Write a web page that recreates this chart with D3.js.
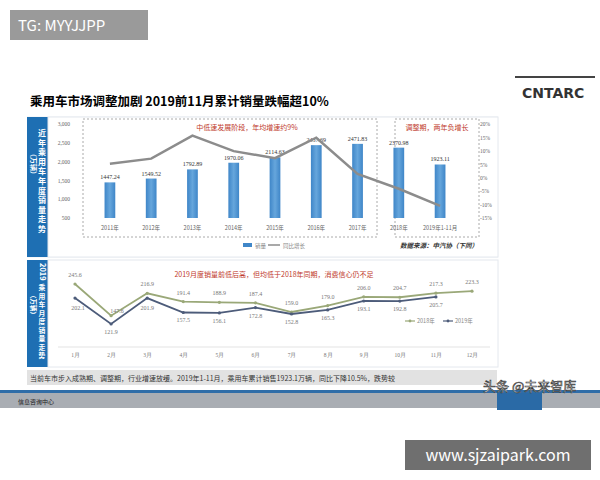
<!DOCTYPE html>
<html><head><meta charset="utf-8">
<script src="https://cdn.jsdelivr.net/npm/d3@7"></script>
<style>body{margin:0;background:#fff}svg{font-family:"Noto Sans CJK SC","Noto Sans",sans-serif}</style>
</head><body><svg width="600" height="480"></svg>
<script>
// data
const years = ["2011年","2012年","2013年","2014年","2015年","2016年","2017年","2018年","2019年1-11月"];
const sales = [1447.24,1549.52,1792.89,1970.06,2114.63,2437.69,2471.83,2370.98,1923.11];
const growth = [5.2,7.1,15.7,9.9,7.3,14.9,1.4,-4.1,-10.5];
const months = ["1月","2月","3月","4月","5月","6月","7月","8月","9月","10月","11月","12月"];
const m2018 = [245.6,147.6,216.9,191.4,188.9,187.4,159.0,179.0,206.0,204.7,217.3,223.3];
const m2019 = [202.1,121.9,201.9,157.5,156.1,172.8,152.8,165.3,193.1,192.8,205.7];
const leftTicks = [500,1000,1500,2000,2500,3000];
const rightTicks = [-15,-10,-5,0,5,10,15,20];

const svg = d3.select("svg");

// top tag
svg.append("rect").attr("x",10).attr("y",10).attr("width",138).attr("height",30).attr("fill","#9a9a9a");
svg.append("text").attr("x",18).attr("y",31).attr("fill","#fff").attr("font-size",15).text("TG: MYYJJPP");

// title and logo
svg.append("text").attr("x",30).attr("y",106).attr("font-size",12.5).attr("font-weight","bold").text("乘用车市场调整加剧 2019前11月累计销量跌幅超10%");
svg.append("line").attr("x1",515).attr("x2",595).attr("y1",77).attr("y2",77).attr("stroke","#444").attr("stroke-width",2);
svg.append("text").attr("x",522).attr("y",98).attr("font-size",14).attr("font-weight","bold").attr("fill","#333").attr("font-family","DejaVu Sans").text("CNTARC");

// panels
function panel(y0, y1) {
  svg.append("rect").attr("x",27).attr("y",y0).attr("width",21).attr("height",y1-y0).attr("fill","#1e6fb3");
  svg.append("rect").attr("x",48).attr("y",y0).attr("width",450).attr("height",y1-y0).attr("fill","#fff").attr("stroke","#e4e8ee");
}
function column(str, cx, y0, size, step) {
  str.split("").forEach((c,i)=>svg.append("text").attr("x",cx).attr("y",y0+i*step)
    .attr("font-size",size).attr("font-weight","bold").attr("fill","#fff").attr("text-anchor","middle").text(c));
}
svg.append("rect").attr("x",27).attr("y",116).attr("width",471).attr("height",142).attr("fill","#f6f8fa");
panel(117, 257);
column("近年乘用车年度销量走势", 42, 136, 8, 9.6);
svg.append("text").attr("transform","translate(31,150) rotate(90)").attr("font-size",7).attr("fill","#fff").attr("font-weight","bold").text("（万辆）");

// top chart scales
const x = d3.scaleBand().domain(years).range([74,476]).padding(0.74);
const y = d3.scaleLinear().domain([500,3000]).range([218,124]);
const yr = d3.scaleLinear().domain([-15,20]).range([218,124]);

svg.append("g").attr("transform","translate(72,0)")
  .call(d3.axisLeft(y).tickValues(leftTicks).tickSize(0).tickPadding(2))
  .call(g=>g.select(".domain").remove())
  .selectAll("text").attr("font-size",5.5).attr("fill","#666").attr("font-family","Liberation Serif");
svg.append("g").attr("transform","translate(478,0)")
  .call(d3.axisRight(yr).tickValues(rightTicks).tickFormat(d=>d+"%").tickSize(0).tickPadding(2))
  .call(g=>g.select(".domain").remove())
  .selectAll("text").attr("font-size",5.5).attr("fill","#666").attr("font-family","Liberation Serif");

// dashed boxes
svg.append("rect").attr("x",83).attr("y",119).attr("width",294).attr("height",118).attr("fill","none").attr("stroke","#aaa").attr("stroke-dasharray","2,2");
svg.append("rect").attr("x",395).attr("y",119).attr("width",84).attr("height",118).attr("fill","none").attr("stroke","#aaa").attr("stroke-dasharray","2,2");

const grad = svg.append("defs").append("linearGradient").attr("id","bg").attr("x1",0).attr("x2",1);
grad.append("stop").attr("offset",0).attr("stop-color","#3f86c8");
grad.append("stop").attr("offset",0.5).attr("stop-color","#66a6dc");
grad.append("stop").attr("offset",1).attr("stop-color","#3f86c8");

svg.selectAll(".bar").data(sales).join("rect")
  .attr("x",(d,i)=>x(years[i])).attr("width",x.bandwidth())
  .attr("y",d=>y(d)).attr("height",d=>y(500)-y(d)).attr("fill","url(#bg)");
svg.selectAll(".bl").data(sales).join("text")
  .attr("x",(d,i)=>x(years[i])+x.bandwidth()/2).attr("y",d=>y(d)-3)
  .attr("text-anchor","middle").attr("font-size",6).attr("fill","#333").attr("font-family","Liberation Serif")
  .text(d=>d.toFixed(2));
svg.selectAll(".yl").data(years).join("text")
  .attr("x",d=>x(d)+x.bandwidth()/2).attr("y",230)
  .attr("text-anchor","middle").attr("font-size",5.5).attr("fill","#666").text(d=>d);

svg.append("path").datum(growth)
  .attr("d",d3.line().x((d,i)=>x(years[i])+x.bandwidth()/2).y(d=>yr(d)))
  .attr("fill","none").attr("stroke","#8c8c8c").attr("stroke-width",2.5);

svg.append("text").attr("x",247).attr("y",130).attr("text-anchor","middle").attr("font-size",7).attr("fill","#c0392b").text("中低速发展阶段，年均增速约9%");
svg.append("text").attr("x",437).attr("y",130).attr("text-anchor","middle").attr("font-size",7).attr("fill","#c0392b").text("调整期，两年负增长");

svg.append("rect").attr("x",243).attr("y",243).attr("width",9).attr("height",4).attr("fill","#3f86c8");
svg.append("text").attr("x",255).attr("y",247.5).attr("font-size",5.5).attr("fill","#888").text("销量");
svg.append("line").attr("x1",268).attr("x2",280).attr("y1",245).attr("y2",245).attr("stroke","#8c8c8c").attr("stroke-width",1.5);
svg.append("text").attr("x",283).attr("y",247.5).attr("font-size",5.5).attr("fill","#888").text("同比增长");
svg.append("text").attr("x",400).attr("y",248).attr("font-size",6.5).attr("font-style","italic").attr("font-weight","bold").attr("fill","#333").text("数据来源：中汽协（下同）");

// bottom panel
panel(260, 367);
svg.append("text").attr("transform","translate(39.5,263) rotate(90)").attr("font-size",7.5).attr("font-weight","bold").attr("fill","#fff").text("2019");
column("乘用车月度销量走势", 42, 290, 6.8, 8.5);
svg.append("text").attr("transform","translate(31,292) rotate(90)").attr("font-size",6.5).attr("fill","#fff").attr("font-weight","bold").text("（万辆）");

const xm = d3.scalePoint().domain(months).range([75,472]);
const ym = d3.scaleLinear().domain([121.9,245.6]).range([324,284]);
svg.append("line").attr("x1",58).attr("x2",490).attr("y1",347).attr("y2",347).attr("stroke","#e3e3e3");
svg.append("g").attr("transform","translate(0,350)")
  .call(d3.axisBottom(xm).tickSize(0).tickPadding(3))
  .call(g=>g.select(".domain").remove())
  .selectAll("text").attr("font-size",5.5).attr("fill","#777").attr("font-family","Liberation Serif");

const series = [{v:m2018,c:"#9aa878",name:"2018年"},{v:m2019,c:"#4d5c7a",name:"2019年"}];
series.forEach(s=>{
  svg.append("path").datum(s.v).attr("d",d3.line().x((d,i)=>xm(months[i])).y(d=>ym(d)))
    .attr("fill","none").attr("stroke",s.c).attr("stroke-width",1.8);
  svg.selectAll(null).data(s.v).join("circle").attr("cx",(d,i)=>xm(months[i])).attr("cy",d=>ym(d)).attr("r",1.6).attr("fill",s.c);
});
// labels: 2018 above, 2019 below
m2018.forEach((d,i)=>{
  let dy = -7, dx = 0;
  if (i===1) { dy = -3; dx = 6; }
  svg.append("text").attr("x",xm(months[i])+dx).attr("y",ym(d)+dy).attr("text-anchor","middle")
    .attr("font-size",6).attr("fill","#777").attr("font-family","Liberation Serif").text(d.toFixed(1));
});
m2019.forEach((d,i)=>{
  let dy = 10, dx = 0;
  if (i===0) { dy = 12; dx = 3; }
  if (i===2) { dy = 12; }
  svg.append("text").attr("x",xm(months[i])+dx).attr("y",ym(d)+dy).attr("text-anchor","middle")
    .attr("font-size",6).attr("fill","#777").attr("font-family","Liberation Serif").text(d.toFixed(1));
});
svg.append("text").attr("x",274).attr("y",277).attr("text-anchor","middle").attr("font-size",7).attr("fill","#c0392b").text("2019月度销量前低后高，但均低于2018年同期，消费信心仍不足");
series.forEach((s,k)=>{
  const lx = 405 + k*38;
  svg.append("line").attr("x1",lx).attr("x2",lx+10).attr("y1",321).attr("y2",321).attr("stroke",s.c).attr("stroke-width",1.2);
  svg.append("circle").attr("cx",lx+5).attr("cy",321).attr("r",1.4).attr("fill",s.c);
  svg.append("text").attr("x",lx+12).attr("y",323).attr("font-size",5.5).attr("fill","#888").text(s.name);
});

// caption bar
svg.append("rect").attr("x",27).attr("y",370).attr("width",470).attr("height",15).attr("fill","#e2e2e2");
svg.append("text").attr("x",30).attr("y",381).attr("font-size",7).attr("fill","#333").text("当前车市步入成熟期、调整期，行业增速放缓。2019年1-11月，乘用车累计销售1923.1万辆，同比下降10.5%，跌势较");

// footer
svg.append("rect").attr("x",0).attr("y",390).attr("width",600).attr("height",3).attr("fill","#2f6da8");
svg.append("rect").attr("x",0).attr("y",393).attr("width",600).attr("height",15).attr("fill","#a9adb3");
svg.append("rect").attr("x",497).attr("y",393).attr("width",45).attr("height",17).attr("fill","#2a6aa6");
svg.append("text").attr("x",18).attr("y",404).attr("font-size",6).attr("fill","#222").text("信息咨询中心");
svg.append("text").attr("x",483).attr("y",391).attr("font-size",13).attr("fill","#fff").attr("stroke","#333").attr("stroke-width",0.6).text("头条 @未来智库");

svg.append("rect").attr("x",405).attr("y",440).attr("width",186).attr("height",30).attr("fill","#6f6f6f");
svg.append("text").attr("x",498).attr("y",461).attr("text-anchor","middle").attr("font-size",16).attr("fill","#fff").text("www.sjzaipark.com");
</script></body></html>
